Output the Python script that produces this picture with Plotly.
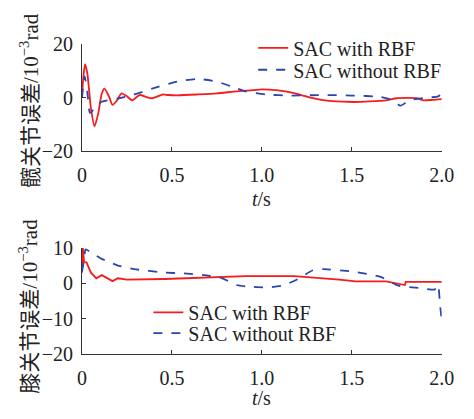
import plotly.graph_objects as go

# Hip joint error (top)
t_hip_rbf = [0.0, 0.008, 0.017, 0.03, 0.05, 0.07, 0.09, 0.11, 0.125, 0.15, 0.17, 0.195, 0.22, 0.25, 0.28, 0.32, 0.36, 0.39, 0.42, 0.45, 0.48, 0.53, 0.64, 0.75, 0.86, 0.95, 1.0, 1.08, 1.16, 1.22, 1.27, 1.33, 1.39, 1.51, 1.6, 1.69, 1.75, 1.86, 1.9, 1.95, 2.0]
e_hip_rbf = [0.0, 8.0, 12.5, 9.0, -4.0, -10.7, -6.0, 1.5, 3.4, 0.5, -2.7, -1.0, 1.6, 0.5, -1.0, 1.0, 0.2, -0.2, 0.5, 1.2, 1.0, 0.9, 1.2, 1.6, 2.4, 2.8, 3.1, 2.8, 2.0, 1.0, 0.0, -0.8, -1.3, -1.6, -1.4, -1.0, -0.2, -0.2, -1.0, -0.8, -0.5]
t_hip_norbf = [0.0, 0.008, 0.015, 0.03, 0.045, 0.07, 0.11, 0.2, 0.29, 0.39, 0.53, 0.64, 0.75, 0.86, 0.91, 1.02, 1.16, 1.34, 1.5, 1.66, 1.73, 1.77, 1.82, 1.91, 1.98, 2.0]
e_hip_norbf = [0.0, 5.0, 8.0, 2.0, -5.7, -4.0, -1.5, -0.3, 1.2, 3.4, 6.0, 7.0, 6.0, 3.5, 2.4, 1.2, 0.8, 1.0, 0.8, 0.3, -1.0, -3.0, -1.0, 0.0, 0.5, 2.0]

# Knee joint error (bottom)
t_knee_rbf = [0.0, 0.005, 0.012, 0.025, 0.05, 0.08, 0.11, 0.13, 0.17, 0.2, 0.25, 0.46, 0.8, 0.91, 1.18, 1.27, 1.43, 1.52, 1.69, 1.795, 1.8, 2.0]
e_knee_rbf = [3.0, 10.0, 6.0, 5.9, 3.0, 1.4, 2.3, 1.8, 0.6, 1.4, 1.0, 1.2, 1.7, 2.0, 2.0, 1.7, 1.0, 0.5, 0.5, -0.5, 0.4, 0.4]
t_knee_norbf = [0.0, 0.01, 0.02, 0.05, 0.11, 0.2, 0.29, 0.46, 0.56, 0.68, 0.78, 0.86, 0.91, 1.03, 1.12, 1.19, 1.28, 1.34, 1.51, 1.66, 1.76, 1.87, 1.96, 1.98, 1.99, 2.0]
e_knee_norbf = [3.2, 6.0, 9.6, 8.7, 6.9, 5.0, 4.0, 3.0, 2.8, 2.3, 1.4, -0.5, -0.9, -1.2, -0.6, 0.9, 3.6, 4.0, 3.3, 1.8, -0.7, -1.3, -1.8, -0.5, -6.0, -10.5]

x_ticks = [0, 0.5, 1.0, 1.5, 2.0]
x_ticklabels = ["0", "0.5", "1.0", "1.5", "2.0"]
hip_yticks = [-20, 0, 20]
knee_yticks = [-20, -10, 0, 10]

RED = "#f41c1c"
BLUE = "#2a45b0"
FONT = "Liberation Serif, Noto Sans CJK SC, serif"

fig = go.Figure()
fig.add_trace(go.Scatter(x=t_hip_rbf, y=e_hip_rbf, mode="lines", name="SAC with RBF",
                         line=dict(color=RED, width=1.8, shape="spline", smoothing=0.6),
                         xaxis="x", yaxis="y", legend="legend"))
fig.add_trace(go.Scatter(x=t_hip_norbf, y=e_hip_norbf, mode="lines", name="SAC without RBF",
                         line=dict(color=BLUE, width=1.8, dash="dash", shape="spline", smoothing=0.6),
                         xaxis="x", yaxis="y", legend="legend2"))
fig.add_trace(go.Scatter(x=t_knee_rbf, y=e_knee_rbf, mode="lines", name="SAC with RBF",
                         line=dict(color=RED, width=1.8),
                         xaxis="x2", yaxis="y2", legend="legend3"))
fig.add_trace(go.Scatter(x=t_knee_norbf, y=e_knee_norbf, mode="lines", name="SAC without RBF",
                         line=dict(color=BLUE, width=1.8, dash="dash", shape="spline", smoothing=0.4),
                         xaxis="x2", yaxis="y2", legend="legend4"))

xdom = [80 / 474, 454 / 474]
common_x = dict(range=[0, 2.0], tickvals=x_ticks, ticktext=x_ticklabels, ticks="inside",
                ticklen=4, tickcolor="#333", showline=True, linecolor="#333", linewidth=1,
                showgrid=False, zeroline=False, tickfont=dict(family=FONT, size=20, color="#222"),
                ticklabelstandoff=6, domain=xdom)
common_y = dict(ticks="inside", ticklen=4, tickcolor="#333", showline=True, linecolor="#333",
                linewidth=1, showgrid=False, zeroline=False,
                tickfont=dict(family=FONT, size=20, color="#222"), ticklabelstandoff=4)


def leg(xpx, ypx):
    return dict(x=xpx / 474, y=1 - ypx / 419, xanchor="left", yanchor="middle",
                bgcolor="rgba(0,0,0,0)", font=dict(family=FONT, size=20, color="#222"),
                itemwidth=30)


fig.update_layout(
    width=474, height=419, margin=dict(l=0, r=0, t=0, b=0),
    paper_bgcolor="white", plot_bgcolor="white",
    xaxis=dict(**common_x, anchor="y"),
    yaxis=dict(**common_y, range=[-20, 20], tickvals=hip_yticks,
               ticktext=["20" if v == 20 else ("−20" if v == -20 else "0") for v in hip_yticks],
               domain=[1 - 148 / 419, 1 - 35 / 419], anchor="x"),
    xaxis2=dict(**common_x, anchor="y2"),
    yaxis2=dict(**common_y, range=[-20, 10], tickvals=knee_yticks,
                ticktext=[("−" + str(-v)) if v < 0 else str(v) for v in knee_yticks],
                domain=[1 - 362 / 419, 1 - 250 / 419], anchor="x2"),
    legend=leg(258, 39),
    legend2=leg(258, 62),
    legend3=leg(149, 318),
    legend4=leg(149, 340),
    showlegend=True,
    annotations=[
        dict(text="<i>t</i>/s", x=267 / 474, y=1 - 198 / 419, xref="paper", yref="paper",
             xanchor="center", yanchor="middle",
             showarrow=False, font=dict(family=FONT, size=20, color="#222")),
        dict(text="<i>t</i>/s", x=267 / 474, y=1 - 408 / 419, xref="paper", yref="paper",
             xanchor="center", yanchor="middle",
             showarrow=False, font=dict(family=FONT, size=20, color="#222")),
        dict(text="髋关节误差/10<sup>−3</sup>rad", x=25 / 474, y=1 - 95 / 419, xref="paper", yref="paper",
             xanchor="center", yanchor="middle",
             showarrow=False, textangle=-90, font=dict(family=FONT, size=21, color="#222")),
        dict(text="膝关节误差/10<sup>−3</sup>rad", x=25 / 474, y=1 - 312 / 419, xref="paper", yref="paper",
             xanchor="center", yanchor="middle",
             showarrow=False, textangle=-90, font=dict(family=FONT, size=21, color="#222")),
    ],
)

fig.write_html("out.html")
